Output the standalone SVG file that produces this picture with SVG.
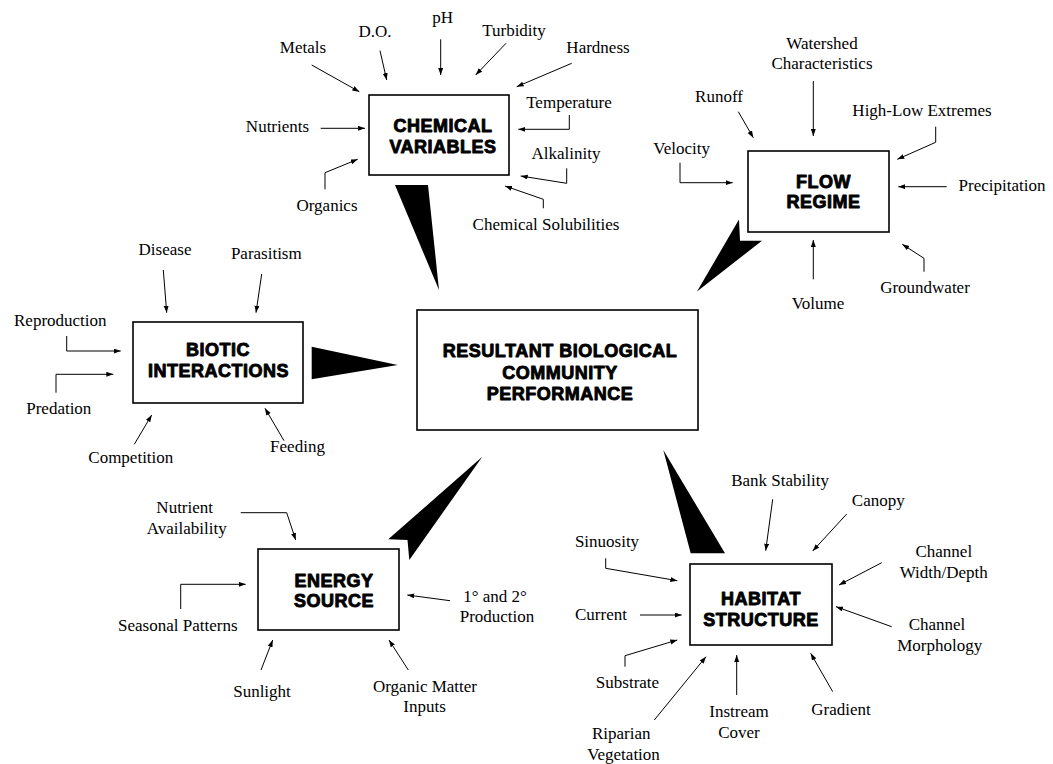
<svg xmlns="http://www.w3.org/2000/svg" width="1053" height="764" viewBox="0 0 1053 764">
<style>
.box{fill:#fff;stroke:#000;stroke-width:1.6}
.hd{font-family:"Liberation Sans",Arial,sans-serif;font-weight:bold;font-size:18px;letter-spacing:0.5px;text-anchor:middle;fill:#000;stroke:#000;stroke-width:0.9;stroke-linejoin:round}
.lb{font-family:"Liberation Serif","Times New Roman",serif;font-size:17px;text-anchor:middle;fill:#000}
.ar{fill:none;stroke:#000;stroke-width:1;marker-end:url(#ah)}
.wd{fill:#000;stroke:none}
</style>
<defs>
<marker id="ah" markerUnits="userSpaceOnUse" markerWidth="8" markerHeight="6" refX="7" refY="2.5" orient="auto">
<path d="M0,0 L7,2.5 L0,5 z" fill="#000"/>
</marker>
</defs>
<rect width="1053" height="764" fill="#fff"/>

<g id="connectors">
<!-- big wedges -->
<polygon class="wd" points="395,185 428,185 439,290"/>
<polygon class="wd" points="739,219.5 740,240.7 762,240.7 697,291.5"/>
<polygon class="wd" points="311.7,346.7 311.7,379.3 397.7,365"/>
<polygon class="wd" points="482.3,456.7 388.3,539.3 407.5,540 409.3,560"/>
<polygon class="wd" points="663.3,450 690.7,553.3 725,553.3"/>
<!-- chemical inputs -->
<line class="ar" x1="311.7" y1="65" x2="359.3" y2="91.7"/>
<line class="ar" x1="380" y1="50.7" x2="386.7" y2="80"/>
<line class="ar" x1="440.7" y1="39.3" x2="440.7" y2="75"/>
<line class="ar" x1="506" y1="43.3" x2="475.7" y2="75"/>
<line class="ar" x1="571.7" y1="63.3" x2="516.7" y2="86.7"/>
<polyline class="ar" points="569.3,115 569.3,129.3 518.3,129.3"/>
<line class="ar" x1="320.7" y1="128.3" x2="365" y2="128.3"/>
<polyline class="ar" points="325,189.3 325,172.7 357.7,159.3"/>
<polyline class="ar" points="566.7,168.3 566.7,183.3 520.7,176"/>
<polyline class="ar" points="543.3,208.3 543.3,199.3 505,186"/>
<!-- flow inputs -->
<line class="ar" x1="813.3" y1="81" x2="813.3" y2="136"/>
<line class="ar" x1="738.3" y1="111.7" x2="753.3" y2="137.7"/>
<polyline class="ar" points="935.7,126.7 935.7,142.3 897.3,159.3"/>
<polyline class="ar" points="680,162.7 680,182.7 732.7,182.7"/>
<line class="ar" x1="946.7" y1="186.7" x2="898.3" y2="186.7"/>
<polyline class="ar" points="924,271.7 924,258.3 902.3,244.3"/>
<line class="ar" x1="813.3" y1="279.3" x2="813.3" y2="240"/>
<!-- biotic inputs -->
<line class="ar" x1="163.3" y1="270" x2="166.7" y2="312.7"/>
<line class="ar" x1="261.7" y1="274" x2="256" y2="312.7"/>
<polyline class="ar" points="66.7,336 66.7,351 120.7,351"/>
<polyline class="ar" points="56,392.7 56,374.3 113.3,374.3"/>
<line class="ar" x1="134.3" y1="444.3" x2="151.7" y2="415"/>
<line class="ar" x1="284" y1="440.7" x2="265" y2="408.3"/>
<!-- energy inputs -->
<polyline class="ar" points="240.7,512.7 286.7,512.7 295.7,540"/>
<polyline class="ar" points="180.7,609 180.7,584.3 245.7,584.3"/>
<line class="ar" x1="450" y1="600.7" x2="407.3" y2="595"/>
<line class="ar" x1="261" y1="670" x2="272.7" y2="640"/>
<line class="ar" x1="408.3" y1="670" x2="389" y2="640"/>
<!-- habitat inputs -->
<line class="ar" x1="772.7" y1="499.3" x2="765.7" y2="550.7"/>
<line class="ar" x1="846.7" y1="514" x2="812.7" y2="551"/>
<polyline class="ar" points="605.7,558.3 605.7,568.3 677.3,580.7"/>
<line class="ar" x1="881.7" y1="562.7" x2="839" y2="585"/>
<line class="ar" x1="640" y1="615" x2="681.7" y2="615"/>
<line class="ar" x1="891.7" y1="626.7" x2="836" y2="606.7"/>
<polyline class="ar" points="625,666.7 625,655.7 677.3,640"/>
<line class="ar" x1="654.3" y1="720" x2="706" y2="656.7"/>
<line class="ar" x1="736.7" y1="695" x2="736.7" y2="655"/>
<line class="ar" x1="832.7" y1="691.7" x2="810.7" y2="653.3"/>
</g>

<g id="chemical">
<rect class="box" x="369" y="95" width="140" height="80"/>
<text class="hd" x="443" y="131.5">CHEMICAL</text>
<text class="hd" x="443" y="153">VARIABLES</text>
</g>
<g id="flow">
<rect class="box" x="748" y="151" width="141" height="81"/>
<text class="hd" x="823.5" y="188.3">FLOW</text>
<text class="hd" x="823.5" y="208.3">REGIME</text>
</g>
<g id="biotic">
<rect class="box" x="133" y="322" width="170" height="81"/>
<text class="hd" x="218" y="356">BIOTIC</text>
<text class="hd" x="218.5" y="376.7">INTERACTIONS</text>
</g>
<g id="result">
<rect class="box" x="417" y="310" width="281" height="120"/>
<text class="hd" x="560" y="357.3">RESULTANT BIOLOGICAL</text>
<text class="hd" x="560" y="379">COMMUNITY</text>
<text class="hd" x="560" y="400">PERFORMANCE</text>
</g>
<g id="energy">
<rect class="box" x="258" y="549" width="141" height="81"/>
<text class="hd" x="334" y="586.7">ENERGY</text>
<text class="hd" x="334" y="607.3">SOURCE</text>
</g>
<g id="habitat">
<rect class="box" x="690" y="564" width="142" height="81"/>
<text class="hd" x="761" y="605">HABITAT</text>
<text class="hd" x="761" y="625.7">STRUCTURE</text>
</g>

<g id="chemical-labels">
<text class="lb" x="303" y="53.3">Metals</text>
<text class="lb" x="375" y="37.3">D.O.</text>
<text class="lb" x="442.7" y="23">pH</text>
<text class="lb" x="514" y="36">Turbidity</text>
<text class="lb" x="598" y="53.3">Hardness</text>
<text class="lb" x="569" y="108.3">Temperature</text>
<text class="lb" x="277.5" y="131.7">Nutrients</text>
<text class="lb" x="566" y="159.3">Alkalinity</text>
<text class="lb" x="327" y="210.7">Organics</text>
<text class="lb" x="546" y="230">Chemical Solubilities</text>
</g>
<g id="flow-labels">
<text class="lb" x="822" y="49.3">Watershed</text>
<text class="lb" x="822" y="69.3">Characteristics</text>
<text class="lb" x="719" y="101.7">Runoff</text>
<text class="lb" x="922" y="115.7">High-Low Extremes</text>
<text class="lb" x="681.7" y="154">Velocity</text>
<text class="lb" x="1002" y="190.7">Precipitation</text>
<text class="lb" x="925" y="293.3">Groundwater</text>
<text class="lb" x="818" y="309.3">Volume</text>
</g>
<g id="biotic-labels">
<text class="lb" x="165" y="255">Disease</text>
<text class="lb" x="266.3" y="259.3">Parasitism</text>
<text class="lb" x="60.3" y="325.7">Reproduction</text>
<text class="lb" x="58.8" y="414.3">Predation</text>
<text class="lb" x="130.8" y="463.3">Competition</text>
<text class="lb" x="297.5" y="451.7">Feeding</text>
</g>
<g id="energy-labels">
<text class="lb" x="184.7" y="512.7">Nutrient</text>
<text class="lb" x="186.7" y="534.3">Availability</text>
<text class="lb" x="177.8" y="630.7">Seasonal Patterns</text>
<text class="lb" x="495" y="601.7">1° and 2°</text>
<text class="lb" x="497" y="622.3">Production</text>
<text class="lb" x="262" y="696.7">Sunlight</text>
<text class="lb" x="425" y="691.7">Organic Matter</text>
<text class="lb" x="424.5" y="712.3">Inputs</text>
</g>
<g id="habitat-labels">
<text class="lb" x="780" y="486">Bank Stability</text>
<text class="lb" x="878.3" y="506">Canopy</text>
<text class="lb" x="607" y="547.3">Sinuosity</text>
<text class="lb" x="943.8" y="556.7">Channel</text>
<text class="lb" x="943.7" y="577.7">Width/Depth</text>
<text class="lb" x="601" y="620">Current</text>
<text class="lb" x="937" y="630">Channel</text>
<text class="lb" x="939.7" y="651">Morphology</text>
<text class="lb" x="627.5" y="688.3">Substrate</text>
<text class="lb" x="739" y="716.7">Instream</text>
<text class="lb" x="739" y="737.7">Cover</text>
<text class="lb" x="841" y="715">Gradient</text>
<text class="lb" x="621.3" y="739.3">Riparian</text>
<text class="lb" x="623.5" y="760">Vegetation</text>
</g>
</svg>
